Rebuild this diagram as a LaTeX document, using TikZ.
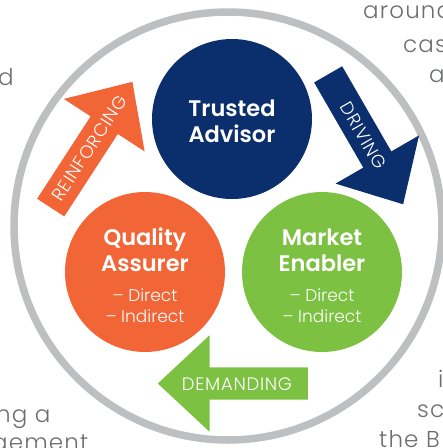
\documentclass[tikz,border=0pt]{standalone}
\usepackage{fontspec}
\setmainfont{Poppins}[UprightFont=* Light, BoldFont=* SemiBold]
\newfontfamily\flowfont{Poppins}[UprightFont=* Light, LetterSpace=4]
\newfontfamily\asidefont{Poppins}[UprightFont=* Light, LetterSpace=5]
\usetikzlibrary{shapes.arrows,positioning}

\definecolor{advisorblue}{HTML}{0B2E6C}
\definecolor{assurerorange}{HTML}{F26536}
\definecolor{enablergreen}{HTML}{7DC143}
\definecolor{ringgrey}{HTML}{BEBFC1}
\definecolor{asidegrey}{HTML}{6D6E71}

\tikzset{
  hub/.style={circle,minimum size=160pt,inner sep=0pt},
  hubtitle/.style={text=white,align=center,inner sep=0pt,
    font=\bfseries\fontsize{22.5}{26}\selectfont},
  hubsub/.style={text=white,align=center,inner sep=0pt,
    font=\fontsize{17}{21}\selectfont},
  flow/.style={single arrow,single arrow head extend=32pt,
    single arrow tip angle=86,minimum height=150pt,
    inner xsep=0pt,inner ysep=0pt,text height=22.5pt,text depth=9.5pt,
    text=white,font=\flowfont\fontsize{18}{18}\selectfont},
  aside/.style={anchor=base west,inner sep=0pt,text=asidegrey,
    font=\asidefont\fontsize{23}{23}\selectfont}
}

\begin{document}
\begin{tikzpicture}[x=1pt,y=-1pt]
  \path[use as bounding box] (0,0) rectangle (443,448);
  \clip (0,0) rectangle (443,448);

  % surrounding copy, cut off at the edges
  \node[aside] (around) at (363,18) {around};
  \node[aside] (cas) at (403,52) {cas};
  \node[aside] (lonea) at (429,82) {a};
  \node[aside] (loned) at (-2,85) {d};
  \node[aside] (nga) at (-4,422) {ng a};
  \node[aside] (gement) at (-8,450) {gement};
  \node[aside] (lonei) at (438,387) {i};
  \node[aside] (sc) at (417,417) {sc};
  \node[aside] (theb) at (379,447) {the B};

  % outer ring
  \draw[ringgrey,line width=7.5pt] (228,226) circle[radius=214pt];

  % the three roles
  \node[hub,fill=advisorblue] (advisor) at (232,119) {};
  \node[hub,fill=assurerorange] (assurer) at (145,272) {};
  \node[hub,fill=enablergreen] (enabler) at (322,272) {};

  \node[hubtitle] (advisortitle) at (232,121) {Trusted\\Advisor};
  \node[hubtitle] (assurertitle) at (145,250) {Quality\\Assurer};
  \node[hubsub] (assurersub) at (145,306) {– Direct\\– Indirect};
  \node[hubtitle] (enablertitle) at (322,250) {Market\\Enabler};
  \node[hubsub] (enablersub) at (322,306) {– Direct\\– Indirect};

  % block arrows between them
  \node[flow,fill=assurerorange,rotate=57] (reinforcing) at (86.8,152)
    {\hspace*{9pt}REINFORCING};
  \node[flow,fill=advisorblue,rotate=-60] (driving) at (361.3,131.8)
    {\hspace*{9pt}DRIVING};
  \node[flow,fill=enablergreen,shape border rotate=180] (demanding) at (241.5,383.5)
    {DEMANDING\hspace*{9pt}};
\end{tikzpicture}
\end{document}
